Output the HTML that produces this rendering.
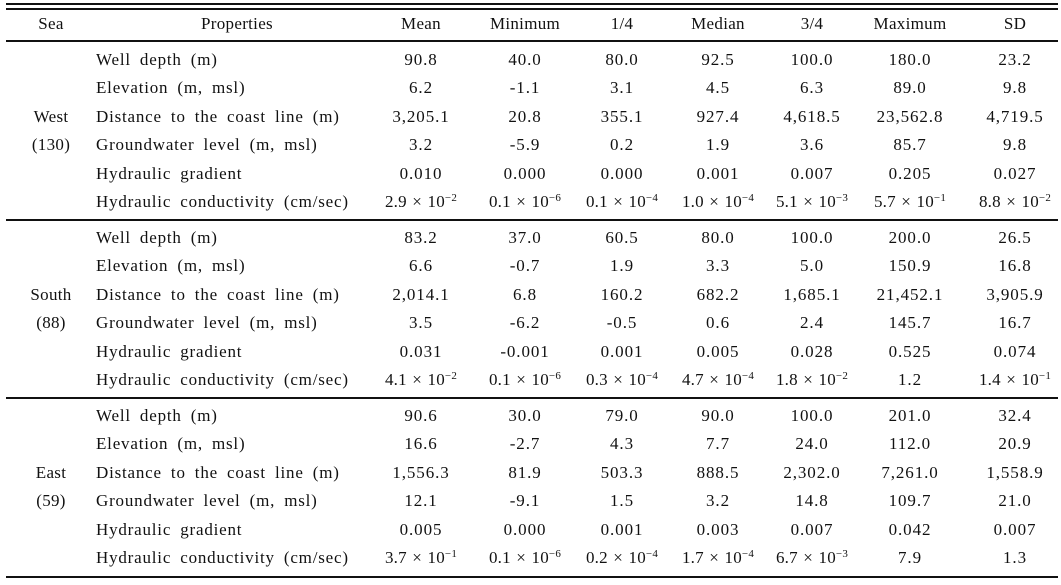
<!DOCTYPE html>
<html><head><meta charset="utf-8"><style>
body{margin:0;width:1061px;height:585px;background:#fff;position:relative;overflow:hidden;font-family:"Liberation Serif",serif;font-size:17px;letter-spacing:0.9px;color:#111}
.l{position:absolute;left:6px;width:1052px;height:2px;background:#111}
.r{position:absolute;left:0;width:1061px;height:20px;line-height:20px}
.r span{position:absolute;top:0;white-space:nowrap;transform:translateX(-50%)}
.r span.h{letter-spacing:0.3px}
.r span.p{transform:none;left:96px;word-spacing:4px;letter-spacing:0.8px}
.r span.e{letter-spacing:0.2px;word-spacing:1px}
sup{font-size:11px;vertical-align:6px;line-height:0}
</style></head><body>
<div class="l" style="top:3px"></div>
<div class="l" style="top:8px"></div>
<div class="l" style="top:40px"></div>
<div class="l" style="top:219px"></div>
<div class="l" style="top:397px"></div>
<div class="l" style="top:576px"></div>

<div class="r" style="top:14px"><span class="h" style="left:51px">Sea</span><span class="h" style="left:237px">Properties</span><span class="h" style="left:421px">Mean</span><span class="h" style="left:525px">Minimum</span><span class="h" style="left:622px">1/4</span><span class="h" style="left:718px">Median</span><span class="h" style="left:812px">3/4</span><span class="h" style="left:910px">Maximum</span><span class="h" style="left:1015px">SD</span></div>

<div class="r" style="top:107px"><span class="h" style="left:51px">West</span></div>
<div class="r" style="top:135px"><span class="h" style="left:51px">(130)</span></div>
<div class="r" style="top:285px"><span class="h" style="left:51px">South</span></div>
<div class="r" style="top:313px"><span class="h" style="left:51px">(88)</span></div>
<div class="r" style="top:463px"><span class="h" style="left:51px">East</span></div>
<div class="r" style="top:491px"><span class="h" style="left:51px">(59)</span></div>

<div class="r" style="top:50px"><span class="p">Well depth (m)</span><span style="left:421px">90.8</span><span style="left:525px">40.0</span><span style="left:622px">80.0</span><span style="left:718px">92.5</span><span style="left:812px">100.0</span><span style="left:910px">180.0</span><span style="left:1015px">23.2</span></div>
<div class="r" style="top:78px"><span class="p">Elevation (m, msl)</span><span style="left:421px">6.2</span><span style="left:525px">-1.1</span><span style="left:622px">3.1</span><span style="left:718px">4.5</span><span style="left:812px">6.3</span><span style="left:910px">89.0</span><span style="left:1015px">9.8</span></div>
<div class="r" style="top:107px"><span class="p">Distance to the coast line (m)</span><span style="left:421px">3,205.1</span><span style="left:525px">20.8</span><span style="left:622px">355.1</span><span style="left:718px">927.4</span><span style="left:812px">4,618.5</span><span style="left:910px">23,562.8</span><span style="left:1015px">4,719.5</span></div>
<div class="r" style="top:135px"><span class="p">Groundwater level (m, msl)</span><span style="left:421px">3.2</span><span style="left:525px">-5.9</span><span style="left:622px">0.2</span><span style="left:718px">1.9</span><span style="left:812px">3.6</span><span style="left:910px">85.7</span><span style="left:1015px">9.8</span></div>
<div class="r" style="top:164px"><span class="p">Hydraulic gradient</span><span style="left:421px">0.010</span><span style="left:525px">0.000</span><span style="left:622px">0.000</span><span style="left:718px">0.001</span><span style="left:812px">0.007</span><span style="left:910px">0.205</span><span style="left:1015px">0.027</span></div>
<div class="r" style="top:192px"><span class="p">Hydraulic conductivity (cm/sec)</span><span class="e" style="left:421px">2.9 × 10<sup>−2</sup></span><span class="e" style="left:525px">0.1 × 10<sup>−6</sup></span><span class="e" style="left:622px">0.1 × 10<sup>−4</sup></span><span class="e" style="left:718px">1.0 × 10<sup>−4</sup></span><span class="e" style="left:812px">5.1 × 10<sup>−3</sup></span><span class="e" style="left:910px">5.7 × 10<sup>−1</sup></span><span class="e" style="left:1015px">8.8 × 10<sup>−2</sup></span></div>

<div class="r" style="top:228px"><span class="p">Well depth (m)</span><span style="left:421px">83.2</span><span style="left:525px">37.0</span><span style="left:622px">60.5</span><span style="left:718px">80.0</span><span style="left:812px">100.0</span><span style="left:910px">200.0</span><span style="left:1015px">26.5</span></div>
<div class="r" style="top:256px"><span class="p">Elevation (m, msl)</span><span style="left:421px">6.6</span><span style="left:525px">-0.7</span><span style="left:622px">1.9</span><span style="left:718px">3.3</span><span style="left:812px">5.0</span><span style="left:910px">150.9</span><span style="left:1015px">16.8</span></div>
<div class="r" style="top:285px"><span class="p">Distance to the coast line (m)</span><span style="left:421px">2,014.1</span><span style="left:525px">6.8</span><span style="left:622px">160.2</span><span style="left:718px">682.2</span><span style="left:812px">1,685.1</span><span style="left:910px">21,452.1</span><span style="left:1015px">3,905.9</span></div>
<div class="r" style="top:313px"><span class="p">Groundwater level (m, msl)</span><span style="left:421px">3.5</span><span style="left:525px">-6.2</span><span style="left:622px">-0.5</span><span style="left:718px">0.6</span><span style="left:812px">2.4</span><span style="left:910px">145.7</span><span style="left:1015px">16.7</span></div>
<div class="r" style="top:342px"><span class="p">Hydraulic gradient</span><span style="left:421px">0.031</span><span style="left:525px">-0.001</span><span style="left:622px">0.001</span><span style="left:718px">0.005</span><span style="left:812px">0.028</span><span style="left:910px">0.525</span><span style="left:1015px">0.074</span></div>
<div class="r" style="top:370px"><span class="p">Hydraulic conductivity (cm/sec)</span><span class="e" style="left:421px">4.1 × 10<sup>−2</sup></span><span class="e" style="left:525px">0.1 × 10<sup>−6</sup></span><span class="e" style="left:622px">0.3 × 10<sup>−4</sup></span><span class="e" style="left:718px">4.7 × 10<sup>−4</sup></span><span class="e" style="left:812px">1.8 × 10<sup>−2</sup></span><span style="left:910px">1.2</span><span class="e" style="left:1015px">1.4 × 10<sup>−1</sup></span></div>

<div class="r" style="top:406px"><span class="p">Well depth (m)</span><span style="left:421px">90.6</span><span style="left:525px">30.0</span><span style="left:622px">79.0</span><span style="left:718px">90.0</span><span style="left:812px">100.0</span><span style="left:910px">201.0</span><span style="left:1015px">32.4</span></div>
<div class="r" style="top:434px"><span class="p">Elevation (m, msl)</span><span style="left:421px">16.6</span><span style="left:525px">-2.7</span><span style="left:622px">4.3</span><span style="left:718px">7.7</span><span style="left:812px">24.0</span><span style="left:910px">112.0</span><span style="left:1015px">20.9</span></div>
<div class="r" style="top:463px"><span class="p">Distance to the coast line (m)</span><span style="left:421px">1,556.3</span><span style="left:525px">81.9</span><span style="left:622px">503.3</span><span style="left:718px">888.5</span><span style="left:812px">2,302.0</span><span style="left:910px">7,261.0</span><span style="left:1015px">1,558.9</span></div>
<div class="r" style="top:491px"><span class="p">Groundwater level (m, msl)</span><span style="left:421px">12.1</span><span style="left:525px">-9.1</span><span style="left:622px">1.5</span><span style="left:718px">3.2</span><span style="left:812px">14.8</span><span style="left:910px">109.7</span><span style="left:1015px">21.0</span></div>
<div class="r" style="top:520px"><span class="p">Hydraulic gradient</span><span style="left:421px">0.005</span><span style="left:525px">0.000</span><span style="left:622px">0.001</span><span style="left:718px">0.003</span><span style="left:812px">0.007</span><span style="left:910px">0.042</span><span style="left:1015px">0.007</span></div>
<div class="r" style="top:548px"><span class="p">Hydraulic conductivity (cm/sec)</span><span class="e" style="left:421px">3.7 × 10<sup>−1</sup></span><span class="e" style="left:525px">0.1 × 10<sup>−6</sup></span><span class="e" style="left:622px">0.2 × 10<sup>−4</sup></span><span class="e" style="left:718px">1.7 × 10<sup>−4</sup></span><span class="e" style="left:812px">6.7 × 10<sup>−3</sup></span><span style="left:910px">7.9</span><span style="left:1015px">1.3</span></div>
</body></html>
